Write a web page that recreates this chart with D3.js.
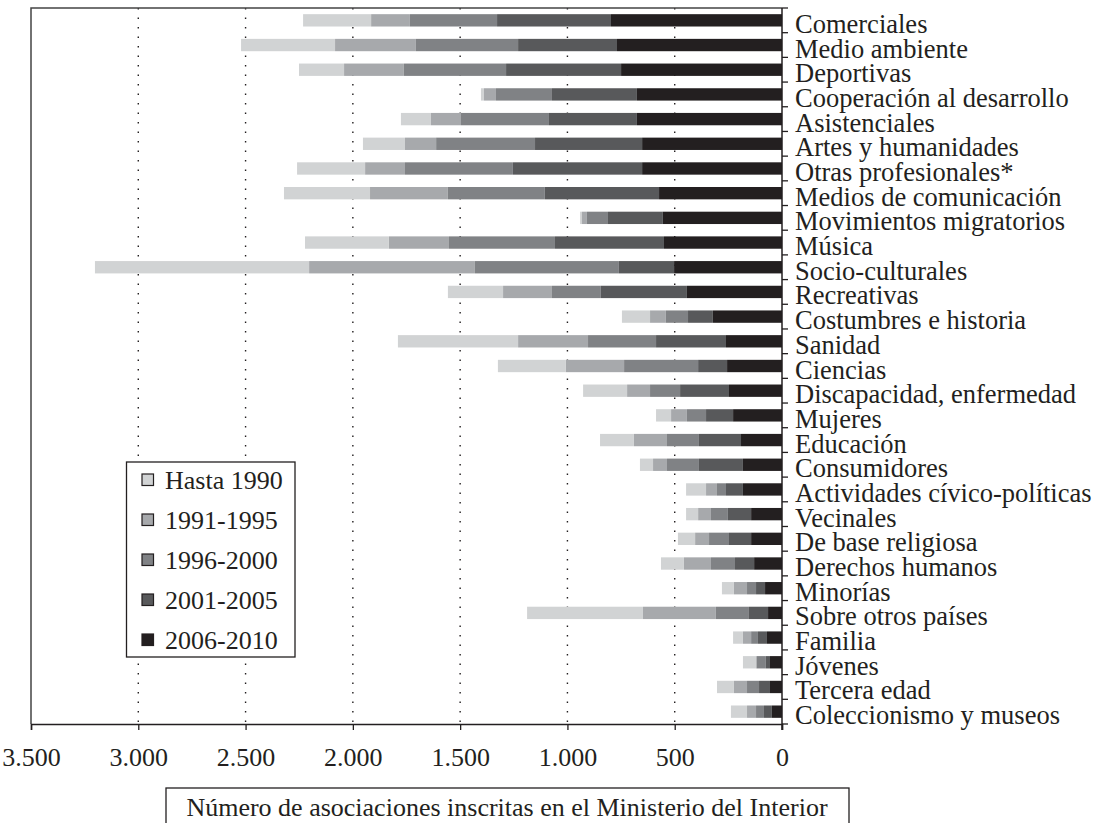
<!DOCTYPE html>
<html>
<head>
<meta charset="utf-8">
<script src="https://cdn.jsdelivr.net/npm/d3@7"></script>
<style>
  body { margin: 0; background: #fff; }
  text { font-family: "Liberation Serif", "Times New Roman", serif; fill: #231f20; }
</style>
</head>
<body>
<svg id="chart" width="1100" height="823"></svg>
<script>
// categories, top to bottom
var categories = ["Comerciales", "Medio ambiente", "Deportivas", "Cooperación al desarrollo",
  "Asistenciales", "Artes y humanidades", "Otras profesionales*", "Medios de comunicación",
  "Movimientos migratorios", "Música", "Socio-culturales", "Recreativas", "Costumbres e historia",
  "Sanidad", "Ciencias", "Discapacidad, enfermedad", "Mujeres", "Educación", "Consumidores",
  "Actividades cívico-políticas", "Vecinales", "De base religiosa", "Derechos humanos",
  "Minorías", "Sobre otros países", "Familia", "Jóvenes", "Tercera edad", "Coleccionismo y museos"];

var hasta1990 = [317, 438, 210, 14, 140, 196, 317, 401, 9, 391, 998, 257, 131, 560, 317, 205, 70, 158, 61, 93, 56, 80, 107, 56, 540, 46, 61, 79, 75];
var p1991_1995 = [181, 377, 279, 56, 140, 145, 186, 363, 23, 280, 773, 228, 74, 326, 271, 107, 74, 154, 65, 51, 60, 65, 126, 61, 340, 38, 4, 61, 42];
var p1996_2000 = [406, 476, 476, 261, 410, 461, 503, 452, 98, 494, 671, 228, 103, 317, 345, 140, 89, 149, 149, 42, 79, 93, 112, 42, 154, 32, 42, 56, 37];
var p2001_2005 = [531, 461, 536, 396, 410, 499, 602, 532, 256, 508, 257, 401, 116, 326, 135, 228, 126, 196, 205, 79, 108, 103, 89, 42, 89, 42, 19, 51, 37];
var p2006_2010 = [797, 769, 750, 676, 676, 652, 652, 573, 555, 550, 503, 443, 322, 261, 256, 247, 228, 191, 182, 182, 144, 144, 130, 79, 65, 70, 56, 56, 47];

var seriesNames = ["Hasta 1990", "1991-1995", "1996-2000", "2001-2005", "2006-2010"];
var seriesValues = [hasta1990, p1991_1995, p1996_2000, p2001_2005, p2006_2010];
var seriesColors = ["#d1d3d4", "#a7a9ac", "#808285", "#58595b", "#231f20"];
var xTicks = [0, 500, 1000, 1500, 2000, 2500, 3000, 3500];
var xTitle = "Número de asociaciones inscritas en el Ministerio del Interior";

(function() {
  var svg = d3.select("#chart");
  var pl = 31, pr = 782, pt = 8, pb = 724;

  var table = categories.map(function(c, i) {
    var row = { cat: c };
    seriesNames.forEach(function(s, j) { row[s] = seriesValues[j][i]; });
    return row;
  });

  var x = d3.scaleLinear().domain([0, 3500]).range([pr, pl]);
  var y = d3.scaleBand().domain(categories).range([pt, pb]).paddingInner(0.5).paddingOuter(0.25);
  var yb = d3.scaleBand().domain(categories).range([pt, pb]);

  // stack from zero outward: newest first
  var stacked = d3.stack().keys(seriesNames.slice().reverse())(table);

  // grid lines (dotted)
  svg.append("g").selectAll("line").data(xTicks.filter(function(t) { return t > 0 && t < 3500; }))
    .enter().append("line")
    .attr("x1", function(d) { return x(d); }).attr("x2", function(d) { return x(d); })
    .attr("y1", pt).attr("y2", pb)
    .attr("stroke", "#231f20").attr("stroke-width", 1.4)
    .attr("stroke-dasharray", "1.4,8.1");

  // frame top and left
  svg.append("path")
    .attr("d", "M" + pr + "," + pt + "H" + pl + "V" + pb)
    .attr("fill", "none").attr("stroke", "#444").attr("stroke-width", 1.5);

  // bars
  svg.append("g").selectAll("g").data(stacked).enter().append("g")
    .attr("fill", function(d) { return seriesColors[seriesNames.indexOf(d.key)]; })
    .selectAll("rect").data(function(d) { return d; }).enter().append("rect")
    .attr("x", function(d) { return x(d[1]); })
    .attr("width", function(d) { return x(d[0]) - x(d[1]); })
    .attr("y", function(d) { return y(d.data.cat); })
    .attr("height", y.bandwidth());

  // x axis
  var xAxis = svg.append("g").attr("transform", "translate(0," + pb + ")")
    .call(d3.axisBottom(x).tickValues(xTicks).tickSize(6).tickPadding(18)
      .tickFormat(function(d) { return d3.format(",")(d).replace(/,/g, "."); }));
  xAxis.select(".domain").attr("stroke", "#231f20").attr("stroke-width", 1.5);
  xAxis.selectAll(".tick line").attr("stroke", "#231f20").attr("stroke-width", 1.3);
  xAxis.selectAll("text").attr("font-size", 26).attr("font-family", "Liberation Serif").attr("fill", "#231f20");

  // right category axis: ticks at band boundaries
  var yAxis = svg.append("g");
  yAxis.append("line").attr("x1", pr).attr("x2", pr).attr("y1", pt).attr("y2", pb + 6)
    .attr("stroke", "#231f20").attr("stroke-width", 1.5);
  yAxis.selectAll("line.tk").data(categories).enter().append("line").attr("class", "tk")
    .attr("x1", pr).attr("x2", pr + 6)
    .attr("y1", function(d) { return yb(d); }).attr("y2", function(d) { return yb(d); })
    .attr("stroke", "#231f20").attr("stroke-width", 1.3);
  yAxis.append("line").attr("x1", pr).attr("x2", pr + 6).attr("y1", pb).attr("y2", pb)
    .attr("stroke", "#231f20").attr("stroke-width", 1.3);
  yAxis.selectAll("text").data(categories).enter().append("text")
    .attr("x", pr + 13)
    .attr("y", function(d) { return yb(d) + yb.bandwidth() / 2 + 12.5; })
    .attr("font-size", 26.5)
    .text(function(d) { return d; });

  // legend
  var lg = svg.append("g");
  lg.append("rect").attr("x", 126.5).attr("y", 462).attr("width", 168.5).attr("height", 195)
    .attr("fill", "#fff").attr("stroke", "#231f20").attr("stroke-width", 1.3);
  var items = lg.selectAll("g").data(seriesNames).enter().append("g")
    .attr("transform", function(d, i) { return "translate(0," + (480 + i * 40) + ")"; });
  items.append("rect").attr("x", 142).attr("y", -6).attr("width", 11.5).attr("height", 11.5)
    .attr("fill", function(d, i) { return seriesColors[i]; })
    .attr("stroke", "#231f20").attr("stroke-width", 1.2);
  items.append("text").attr("x", 165).attr("y", 9).attr("font-size", 26).text(function(d) { return d; });

  // axis title box
  var tb = svg.append("g");
  tb.append("rect").attr("x", 166).attr("y", 788).attr("width", 683).attr("height", 40)
    .attr("fill", "#fff").attr("stroke", "#231f20").attr("stroke-width", 1.3);
  tb.append("text").attr("x", 507).attr("y", 816).attr("text-anchor", "middle")
    .attr("font-size", 26).text(xTitle);
})();
</script>
</body>
</html>
